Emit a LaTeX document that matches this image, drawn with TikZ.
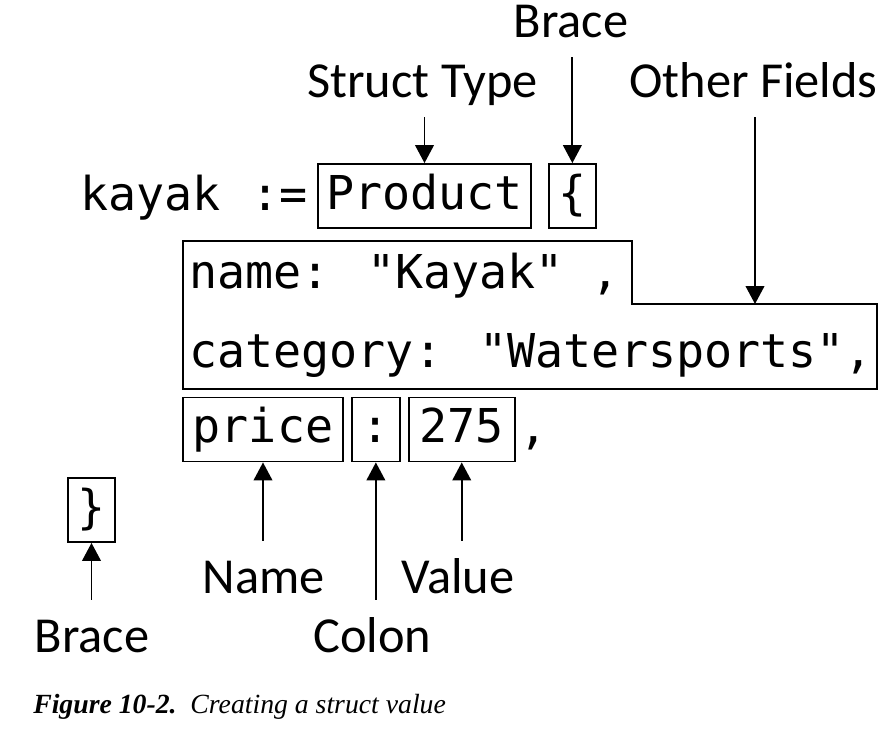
\documentclass[tikz,border=0pt]{standalone}
\usepackage{fontspec}
\usetikzlibrary{positioning,arrows.meta}
\newfontfamily\codefam{DejaVu Sans Mono}
\newfontfamily\labelfam{Carlito}
\newfontfamily\captionfam{Liberation Serif}
\begin{document}
\begin{tikzpicture}
            [x = 0.75pt, y = -0.75pt,
             box/.style = {draw, line width = 1.4pt, font = \codefam\fontsize{35}{42}\selectfont,
                           inner xsep = 0pt, inner ysep = 8pt, text height = 26pt, text depth = 6pt},
             code/.style = {font = \codefam\fontsize{35}{42}\selectfont, inner sep = 0pt, anchor = base west},
             tag/.style = {font = \labelfam\fontsize{37.8}{45}\selectfont, inner sep = 0pt,
                           text height = 24pt, text depth = 0pt, anchor = base},
             pointer/.style = {-{Triangle[length = 13.5pt, width = 14pt]}, line width = 1.4pt, shorten <= 15pt}]
            \useasboundingbox (0,0) rectangle (896,732);
            \node[code] (kayak) at (80,210) {kayak};
            \node[code, anchor = base east] (assign) at (308,210) {:=};
            \node[box, minimum width = 159.75pt] (product) at (424.5,196) {Product};
            \node[box, minimum width = 35.25pt] (lbrace) [right = 12pt of product] {\{};
            \draw[line width = 1.4pt] (183,241) -- (632,241) -- (632,304) -- (877,304) -- (877,389) -- (183,389) -- cycle;
            \coordinate (others) at (755,304);
            \node[code] (namefield) at (189,288) {name: "Kayak" ,};
            \node[code] (catfield) at (189,367) {category: "Watersports",};
            \node[box, minimum width = 120pt] (price) at (263,429.5) {price};
            \node[box, minimum width = 36pt] (colon) [right = 5.25pt of price] {:};
            \node[box, minimum width = 79.5pt] (value) [right = 5.25pt of colon] {275};
            \node[code] (comma) at (519,443) {,};
            \node[box, minimum width = 35.25pt] (rbrace) at (91.5,510) {\}};
            \node[tag] (bracetop) at (571,37) {Brace};
            \node[tag] (structtype) at (422.5,97) {Struct Type};
            \node[tag] (otherfields) at (753.5,97) {Other Fields};
            \node[tag] (fieldname) at (264,593) {Name};
            \node[tag] (fieldvalue) at (458,593) {Value};
            \node[tag] (fieldcolon) at (372.5,652) {Colon};
            \node[tag] (bracebottom) at (92,652) {Brace};
            \draw[pointer] (structtype.south -| product.north) -- (product.north);
            \draw[pointer] (bracetop.south -| lbrace.north) -- (lbrace.north);
            \draw[pointer] (otherfields.south -| others) -- (others);
            \draw[pointer] (fieldname.north -| price.south) -- (price.south);
            \draw[pointer] (fieldcolon.north -| colon.south) -- (colon.south);
            \draw[pointer] (fieldvalue.north -| value.south) -- (value.south);
            \draw[pointer] (bracebottom.north -| rbrace.south) -- (rbrace.south);
            \node[anchor = base west, inner sep = 0pt, font = \captionfam\fontsize{20.8}{25}\selectfont] (caption) at (33,713)
                {\textbf{\textit{Figure 10-2.}}\enspace\textit{Creating a struct value}};
        \end{tikzpicture}
\end{document}
